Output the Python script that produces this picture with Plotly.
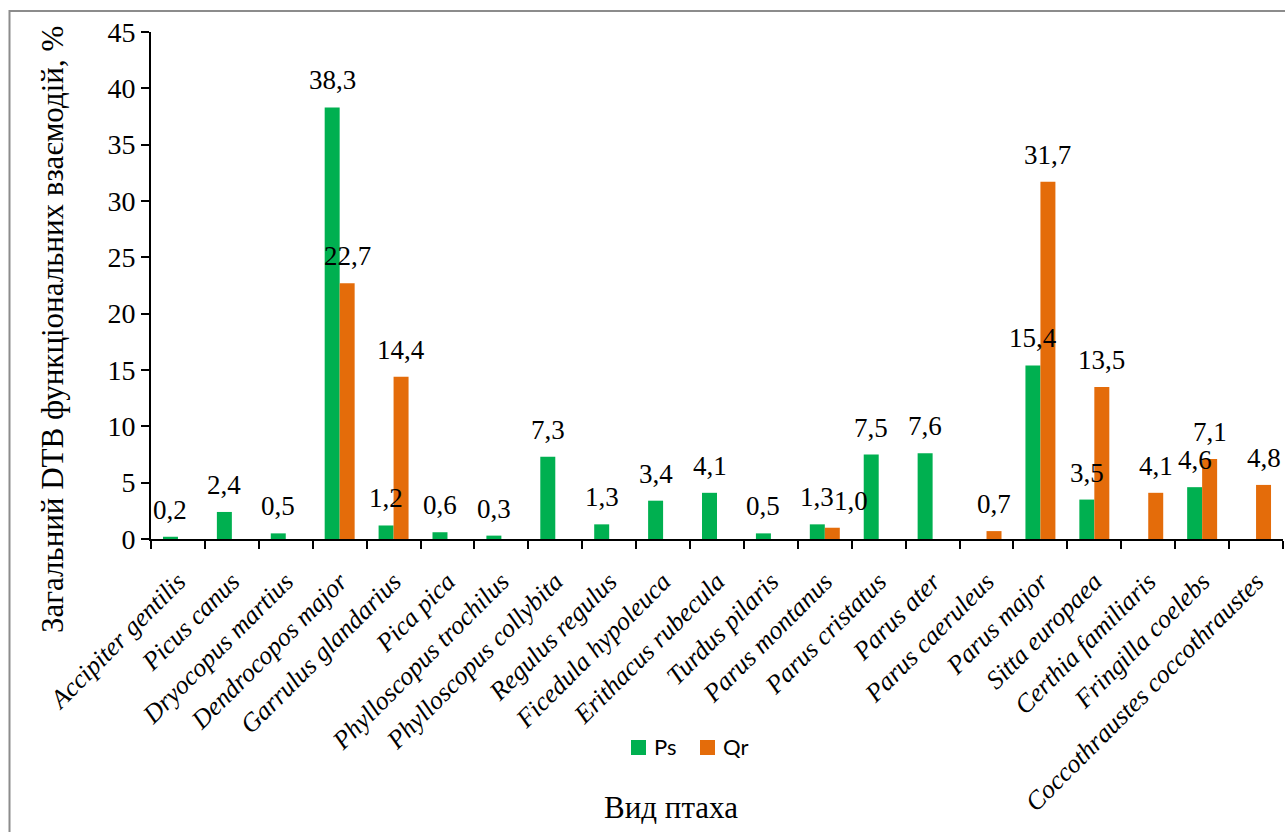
import plotly.graph_objects as go

species = ["Accipiter gentilis", "Picus canus", "Dryocopus martius", "Dendrocopos major",
           "Garrulus glandarius", "Pica pica", "Phylloscopus trochilus", "Phylloscopus collybita",
           "Regulus regulus", "Ficedula hypoleuca", "Erithacus rubecula", "Turdus pilaris",
           "Parus montanus", "Parus cristatus", "Parus ater", "Parus caeruleus", "Parus major",
           "Sitta europaea", "Certhia familiaris", "Fringilla coelebs", "Coccothraustes coccothraustes"]
ps_values = [0.2, 2.4, 0.5, 38.3, 1.2, 0.6, 0.3, 7.3, 1.3, 3.4, 4.1, 0.5, 1.3, 7.5, 7.6, None,
             15.4, 3.5, None, 4.6, None]
qr_values = [None, None, None, 22.7, 14.4, None, None, None, None, None, None, None, 1.0, None,
             None, 0.7, 31.7, 13.5, 4.1, 7.1, 4.8]
y_ticks = [0, 5, 10, 15, 20, 25, 30, 35, 40, 45]
series_names = ["Ps", "Qr"]

W, H = 1285, 832
ML, MR, MT, MB = 151, 2, 32, 293
PW = W - ML - MR
PH = H - MT - MB

def px_x(p):
    return (p - ML) / PW

def px_y(p):
    return (H - MB - p) / PH

SERIF = "Liberation Serif"
SANS = "Lato"
GREEN = "#00B050"
ORANGE = "#E46C0A"
colors = [GREEN, ORANGE]

def fmt(v):
    return f"{v:.1f}".replace(".", ",")

fig = go.Figure()
for name, vals, col in zip(series_names, (ps_values, qr_values), colors):
    fig.add_trace(go.Bar(name=name, x=species, y=vals, marker_color=col,
                         marker_line_width=0, showlegend=False))

annotations = []
cat_w = PW / len(species)
bar_w = cat_w * (1 - 0.444) / 2
for vals, sh in ((ps_values, -bar_w / 2), (qr_values, bar_w / 2)):
    for i, (s, v) in enumerate(zip(species, vals)):
        if v is None:
            continue
        extra = 0
        # Excel nudges the second of two colliding labels to the right
        if sh > 0 and ps_values[i] is not None and ps_values[i] < 2 and v < 2:
            extra = 19
        annotations.append(dict(x=s, y=v, xref="x", yref="y", text=fmt(v), showarrow=False,
                                xanchor="center", yanchor="bottom", xshift=sh + extra, yshift=10,
                                font=dict(family=SERIF, size=27, color="#000000")))

annotations.append(dict(x=px_x(52), y=px_y(330), xref="paper", yref="paper",
                        text="Загальний DTB функціональних взаємодій, %", textangle=-90,
                        showarrow=False, xanchor="center", yanchor="middle",
                        font=dict(family=SERIF, size=31, color="#000000")))
annotations.append(dict(x=px_x(671), y=px_y(807), xref="paper", yref="paper",
                        text="Вид птаха", showarrow=False, xanchor="center", yanchor="middle",
                        font=dict(family=SERIF, size=31, color="#000000")))

# legend drawn as small squares + labels
shapes = [dict(type="rect", xref="paper", yref="paper",
               x0=px_x(9.5), x1=px_x(1300), y0=px_y(11), y1=px_y(860),
               line=dict(color="#8C8C8C", width=2), fillcolor="rgba(0,0,0,0)", layer="below")]
legend_x = [631, 700]
for lx, name, col in zip(legend_x, series_names, colors):
    shapes.append(dict(type="rect", xref="paper", yref="paper",
                       x0=px_x(lx), x1=px_x(lx + 15), y0=px_y(755), y1=px_y(740),
                       line=dict(width=0), fillcolor=col))
    annotations.append(dict(x=px_x(lx + 21), y=px_y(747), xref="paper", yref="paper",
                            text=name, showarrow=False, xanchor="left", yanchor="middle",
                            font=dict(family=SANS, size=22, color="#000000")))

fig.update_layout(
    width=W, height=H,
    margin=dict(l=ML, r=MR, t=MT, b=MB, pad=0),
    paper_bgcolor="white", plot_bgcolor="white",
    barmode="group", bargap=0.444, bargroupgap=0,
    showlegend=False,
    annotations=annotations,
    shapes=shapes,
    xaxis=dict(type="category", tickson="boundaries", ticks="outside", ticklen=8, tickwidth=2,
               tickcolor="#000000", showline=True, linecolor="#000000", linewidth=2,
               showgrid=False, tickangle=-45, ticklabelstandoff=15,
               tickfont=dict(family=SERIF, size=26, color="#000000", style="italic"),
               range=[-0.5, len(species) - 0.5]),
    yaxis=dict(range=[0, 45], tickvals=y_ticks, ticktext=[str(t) for t in y_ticks],
               ticks="outside", ticklen=8, tickwidth=2, tickcolor="#000000",
               showline=True, linecolor="#000000", linewidth=2, showgrid=False, zeroline=False,
               tickfont=dict(family=SERIF, size=28, color="#000000")),
)

fig.write_html("out.html")
